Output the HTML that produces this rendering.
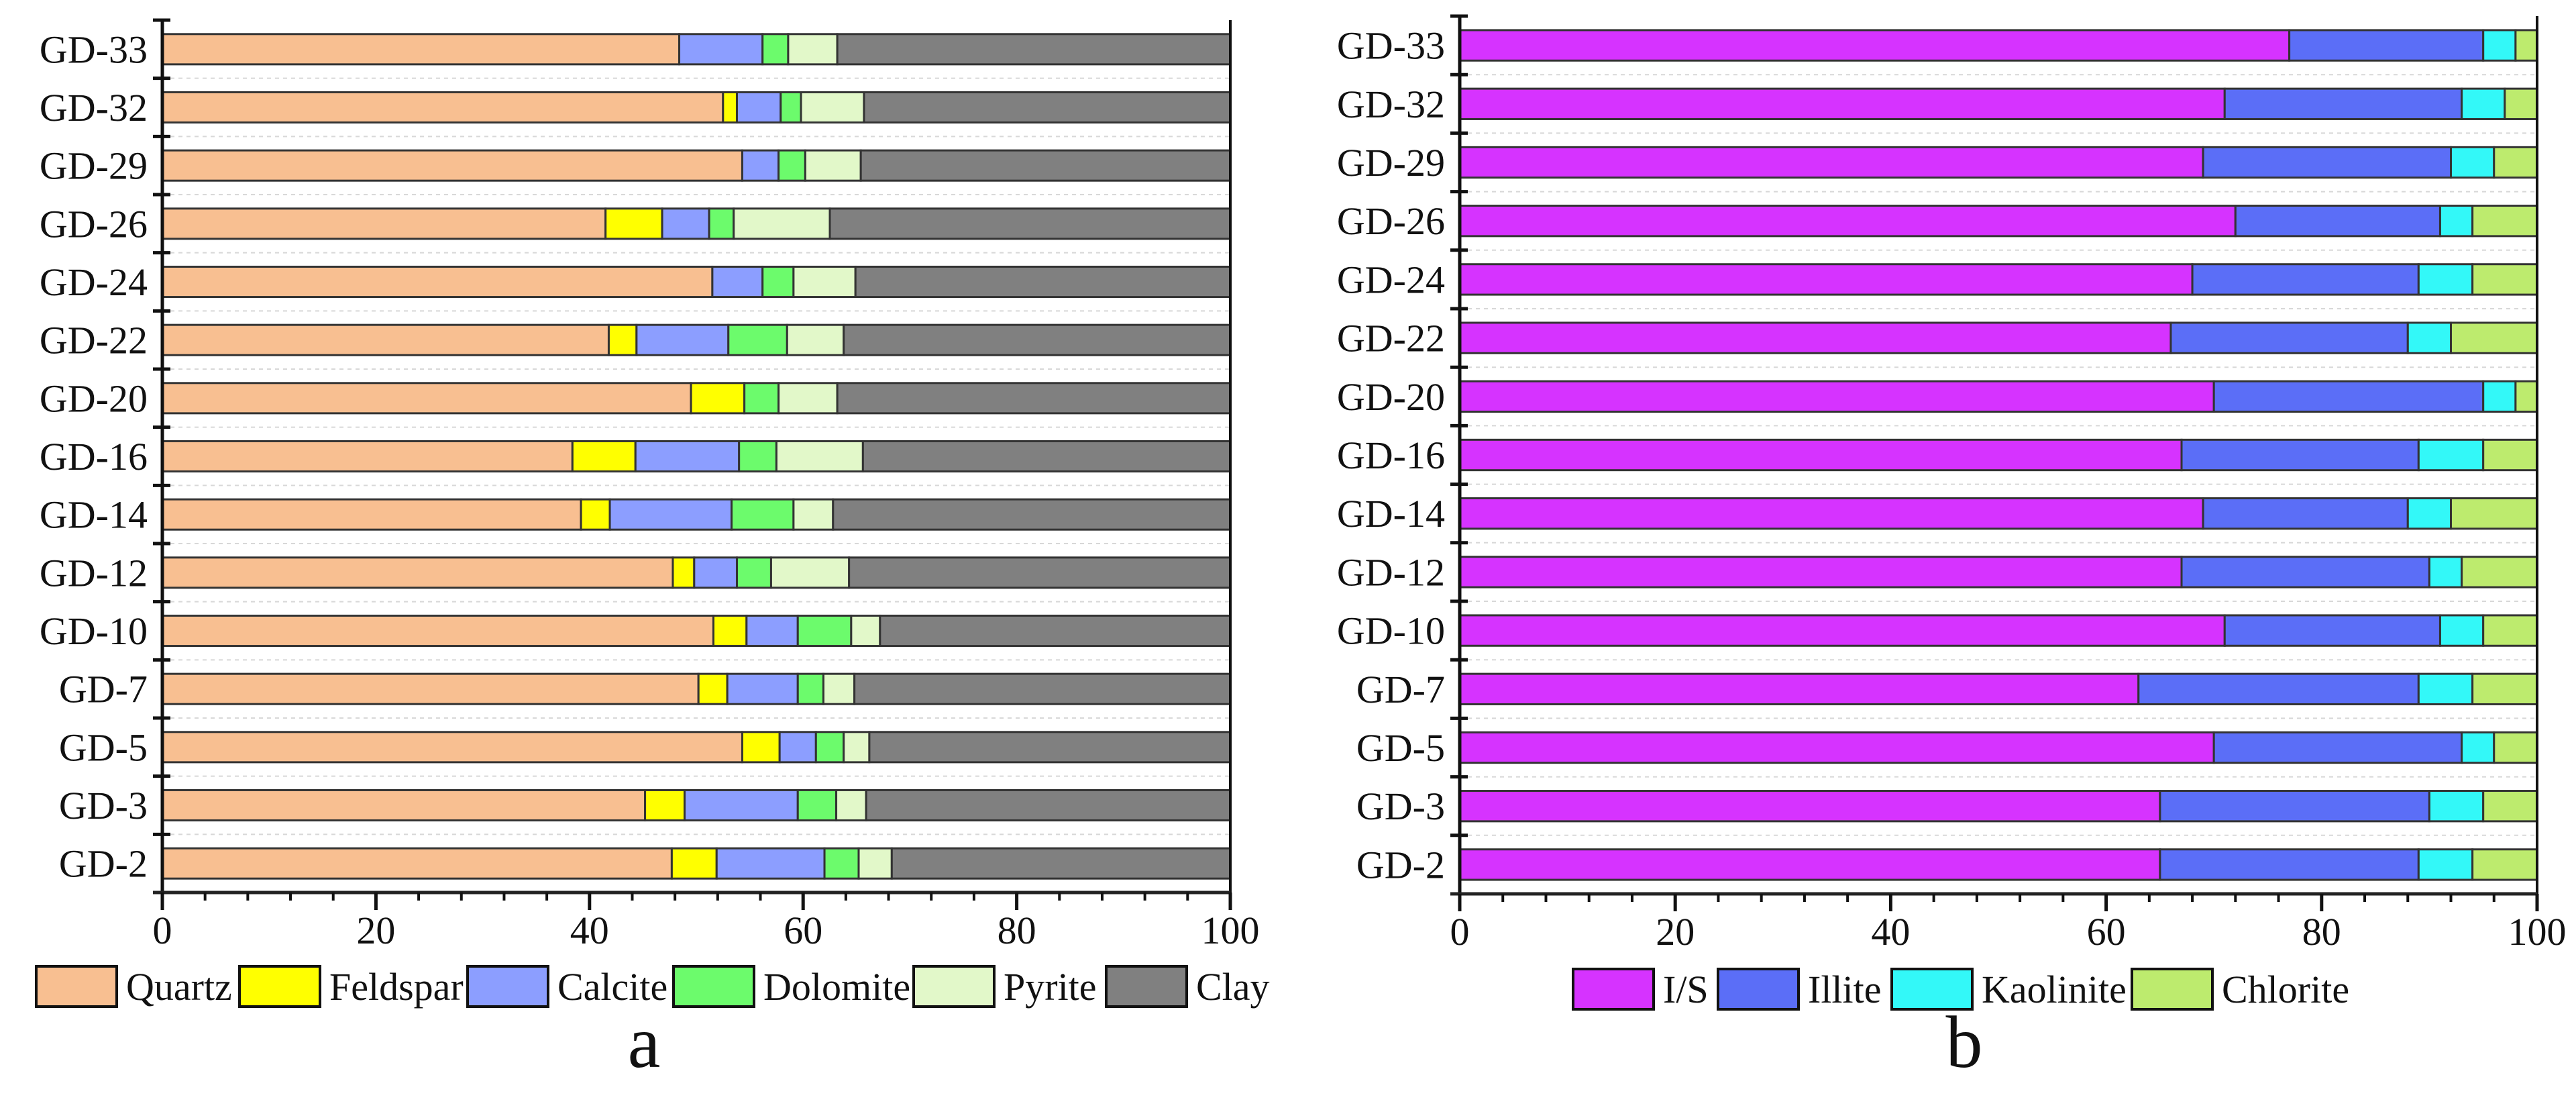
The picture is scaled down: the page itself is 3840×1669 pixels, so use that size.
<!DOCTYPE html>
<html><head><meta charset="utf-8"><style>
html,body{margin:0;padding:0;background:#fff;}
svg{display:block;}
svg text{font-family:"Liberation Serif","Times New Roman",serif;}
</style></head><body>
<svg id="fig" width="3840" height="1669" viewBox="0 0 3840 1669" xmlns="http://www.w3.org/2000/svg"></svg>
<script>
const samples = ["GD-33","GD-32","GD-29","GD-26","GD-24","GD-22","GD-20","GD-16","GD-14","GD-12","GD-10","GD-7","GD-5","GD-3","GD-2"];
const quartz   = [48.4,52.5,54.3,41.5,51.5,41.8,49.5,38.4,39.2,47.8,51.6,50.2,54.3,45.2,47.7];
const feldspar = [0,1.3,0,5.3,0,2.6,5.0,5.9,2.7,2.0,3.1,2.7,3.5,3.7,4.2];
const calcite  = [7.8,4.1,3.4,4.4,4.7,8.6,0,9.7,11.4,4.0,4.8,6.6,3.4,10.6,10.1];
const dolomite = [2.4,1.9,2.5,2.3,2.9,5.5,3.2,3.5,5.8,3.2,5.0,2.4,2.6,3.6,3.2];
const pyrite   = [4.6,5.9,5.2,9.0,5.8,5.3,5.5,8.1,3.7,7.3,2.7,2.9,2.4,2.8,3.1];
const clay     = [36.8,34.3,34.6,37.5,35.1,36.2,36.8,34.4,37.2,35.7,32.8,35.2,33.8,34.1,31.7];
const illiteSmectite = [77,71,69,72,68,66,70,67,69,67,71,63,70,65,65];
const illite    = [18,22,23,19,21,22,25,22,19,23,20,26,23,25,24];
const kaolinite = [3,4,4,3,5,4,3,6,4,3,4,5,3,5,5];
const chlorite  = [2,3,4,6,6,8,2,5,8,7,5,6,4,5,6];
const xTicks = [0,20,40,60,80,100];

const NS="http://www.w3.org/2000/svg";
const FONT='"Liberation Serif", serif';
const svg=document.getElementById('fig');
function mk(tag,attrs,parent){const e=document.createElementNS(NS,tag);for(const k in attrs)e.setAttribute(k,attrs[k]);if(tag==='text')e.setAttribute('font-family',FONT);(parent||svg).appendChild(e);return e;}

function drawChart(cfg){
  const g=mk('g',{});
  
  
  const {x0,x1,top,bottom}=cfg;
  const n=samples.length, row=(bottom-top)/n;
  const xs=v=>x0+(x1-x0)*v/100;
  const yc=i=>top+row*(i+0.5);
  const barH=row*0.52;
  for(let i=0;i<=n;i++){
    const y=top+row*i;
    if(i>0&&i<n){const gl=mk('line',{x1:x0,x2:x1,y1:y,y2:y,stroke:'#d8d8d8','stroke-width':2,'stroke-dasharray':'6 6'},g);
      }
    const t=mk('line',{x1:x0-14,x2:x0+12,y1:y,y2:y,stroke:'#111','stroke-width':5},g);
    
  }
  samples.forEach((s,i)=>{
    let acc=0;
    cfg.series.forEach((ser,k)=>{
      const v=ser.values[i];
      if(v>0){
        const r=mk('rect',{x:xs(acc),y:yc(i)-barH/2,width:xs(acc+v)-xs(acc),height:barH,fill:ser.color,stroke:'#333','stroke-width':3},g);
        
        
      }
      acc+=v;
    });
    const lb=mk('text',{x:x0-22,y:yc(i)+20,'text-anchor':'end','font-size':58,fill:'#111'},g);
    lb.textContent=s;
    
  });
  const ya=mk('line',{x1:x0,x2:x0,y1:top,y2:bottom+26,stroke:'#111','stroke-width':5},g);
  
  const ra=mk('line',{x1:x1,x2:x1,y1:top,y2:bottom+26,stroke:'#111','stroke-width':4},g);
  
  const xa=mk('line',{x1:x0-14,x2:x1,y1:bottom,y2:bottom,stroke:'#222','stroke-width':5},g);
  
  for(let v=0;v<=100;v+=4){
    const mt=mk('line',{x1:xs(v),x2:xs(v),y1:bottom,y2:bottom+12,stroke:'#111','stroke-width':4},g);
    
  }
  xTicks.forEach(v=>{
    const t=mk('line',{x1:xs(v),x2:xs(v),y1:bottom,y2:bottom+26,stroke:'#111','stroke-width':5},g);
    
    const tl=mk('text',{x:xs(v),y:bottom+76,'text-anchor':'middle','font-size':58,fill:'#111'},g);
    tl.textContent=v;
    
  });
  cfg.series.forEach((ser,k)=>{
    const lx=cfg.legend[k];
    const lr=mk('rect',{x:lx,y:cfg.legY,width:120,height:60,fill:ser.color,stroke:'#111','stroke-width':4},g);
    
    
    const lt=mk('text',{x:lx+134,y:cfg.legY+50,'font-size':58,fill:'#111'},g);
    lt.textContent=ser.label;
    
  });
  const p=mk('text',{x:cfg.panelX,y:1590,'text-anchor':'middle','font-size':110,fill:'#111'},g);
  p.textContent=cfg.panel;
  
}

drawChart({name:'chart-a-bulk-minerals',x0:242,x1:1834,top:30,bottom:1330,legY:1440,panelX:960,panel:'a',
  legend:[54,357,697,1004,1362,1649],
  series:[{label:'Quartz',color:'#F8BF91',values:quartz},{label:'Feldspar',color:'#FFFF00',values:feldspar},
    {label:'Calcite',color:'#8C9EFF',values:calcite},{label:'Dolomite',color:'#6CFB6C',values:dolomite},
    {label:'Pyrite',color:'#E2F8C9',values:pyrite},{label:'Clay',color:'#808080',values:clay}]});
drawChart({name:'chart-b-clay-minerals',x0:2176,x1:3782,top:24,bottom:1332,legY:1444,panelX:2928,panel:'b',
  legend:[2345,2561,2820,3178],
  series:[{label:'I/S',color:'#D633FF',values:illiteSmectite},{label:'Illite',color:'#5B6EF7',values:illite},
    {label:'Kaolinite',color:'#33F8F8',values:kaolinite},{label:'Chlorite',color:'#BDEB6E',values:chlorite}]});
</script>
</body></html>
